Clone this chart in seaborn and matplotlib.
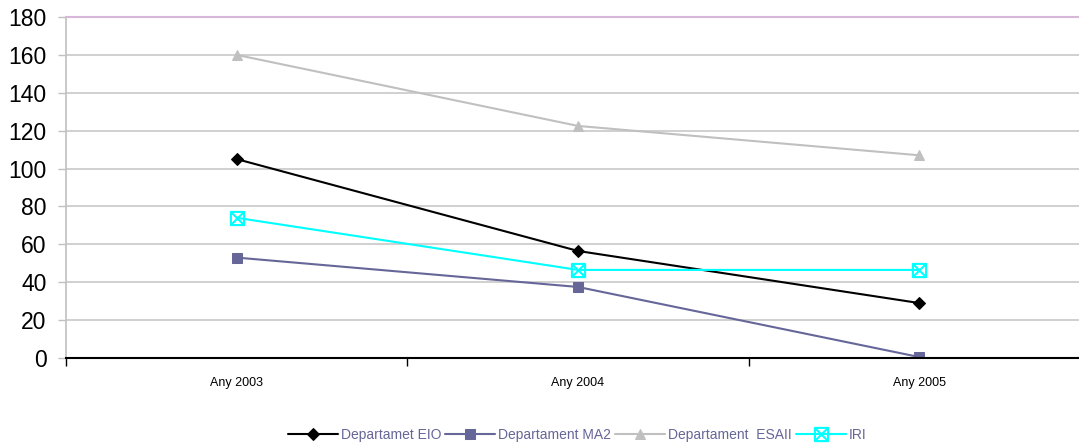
import matplotlib
matplotlib.use("Agg")
import matplotlib.pyplot as plt
from matplotlib.path import Path
from matplotlib.ticker import FixedLocator
import seaborn as sns
import pandas as pd

categories = ["Any 2003", "Any 2004", "Any 2005"]
series_names = ["Departamet EIO", "Departament MA2", "Departament  ESAII", "IRI"]
eio = [105, 56.5, 29]
ma2 = [53, 37.5, 0.5]
esaii = [160, 122.5, 107]
iri = [74, 46.5, 46.5]
yticks = [0, 20, 40, 60, 80, 100, 120, 140, 160, 180]

sns.set_theme(style="white")
plt.rcParams['font.family'] = ['Liberation Sans', 'DejaVu Sans']

box_x = Path([(-1, -1), (1, -1), (1, 1), (-1, 1), (-1, -1),
              (-1, -1), (1, 1), (-1, 1), (1, -1)],
             [Path.MOVETO, Path.LINETO, Path.LINETO, Path.LINETO, Path.CLOSEPOLY,
              Path.MOVETO, Path.LINETO, Path.MOVETO, Path.LINETO])

styles = [
    dict(color="black", marker="D", markersize=6, mfc="black", mec="black"),
    dict(color="#666699", marker="s", markersize=6.5, mfc="#666699", mec="#666699"),
    dict(color="#c0c0c0", marker="^", markersize=7, mfc="#c0c0c0", mec="#c0c0c0"),
    dict(color="#00ffff", marker=box_x, markersize=9.5, mfc="none", mec="#00ffff", mew=1.5),
]

fig = plt.figure(figsize=(10.79, 4.44), dpi=100)
ax = fig.add_axes([66 / 1079, 1 - 358 / 444, 1024 / 1079, 341 / 444])

for name, vals, st in zip(series_names, [eio, ma2, esaii, iri], styles):
    df = pd.DataFrame({"x": categories, "y": vals})
    sns.lineplot(data=df, x="x", y="y", ax=ax, label=name, linewidth=1.5, sort=False, **st)

ax.set_xlim(-0.5, 2.5)
ax.set_ylim(0, 180)
ax.set_yticks(yticks)
ax.set_yticklabels([str(v) for v in yticks], fontsize=16.5, color="black")
ax.set_xticks(range(len(categories)))
ax.set_xticklabels(categories, fontsize=9, color="black")
ax.xaxis.set_minor_locator(FixedLocator([-0.5, 0.5, 1.5, 2.5]))
ax.tick_params(axis="x", which="major", length=0, pad=14)
ax.tick_params(axis="x", which="minor", length=6, color="black", width=1, bottom=True)
ax.tick_params(axis="y", which="major", length=6, color="#c0c0c0", width=1, left=True, pad=8)
ax.set_xlabel("")
ax.set_ylabel("")
ax.grid(axis="y", color="#c8c8c8", linewidth=1.2)
ax.set_axisbelow(True)
ax.spines["top"].set_color("#d8b8d8")
ax.spines["top"].set_linewidth(1.5)
ax.spines["left"].set_color("#c0c0c0")
ax.spines["left"].set_linewidth(1.2)
ax.spines["bottom"].set_color("black")
ax.spines["bottom"].set_linewidth(1.5)
ax.spines["right"].set_visible(False)

ax.legend_.remove()
handles, labels = ax.get_legend_handles_labels()
leg = fig.legend(handles, labels, loc="center", bbox_to_anchor=(0.535, 1 - 435 / 444),
                 ncol=4, frameon=False, fontsize=10, handlelength=3.6, columnspacing=0.3,
                 handletextpad=0.2)
for t in leg.get_texts():
    t.set_color("#666699")

fig.savefig("out.png", dpi=100)
